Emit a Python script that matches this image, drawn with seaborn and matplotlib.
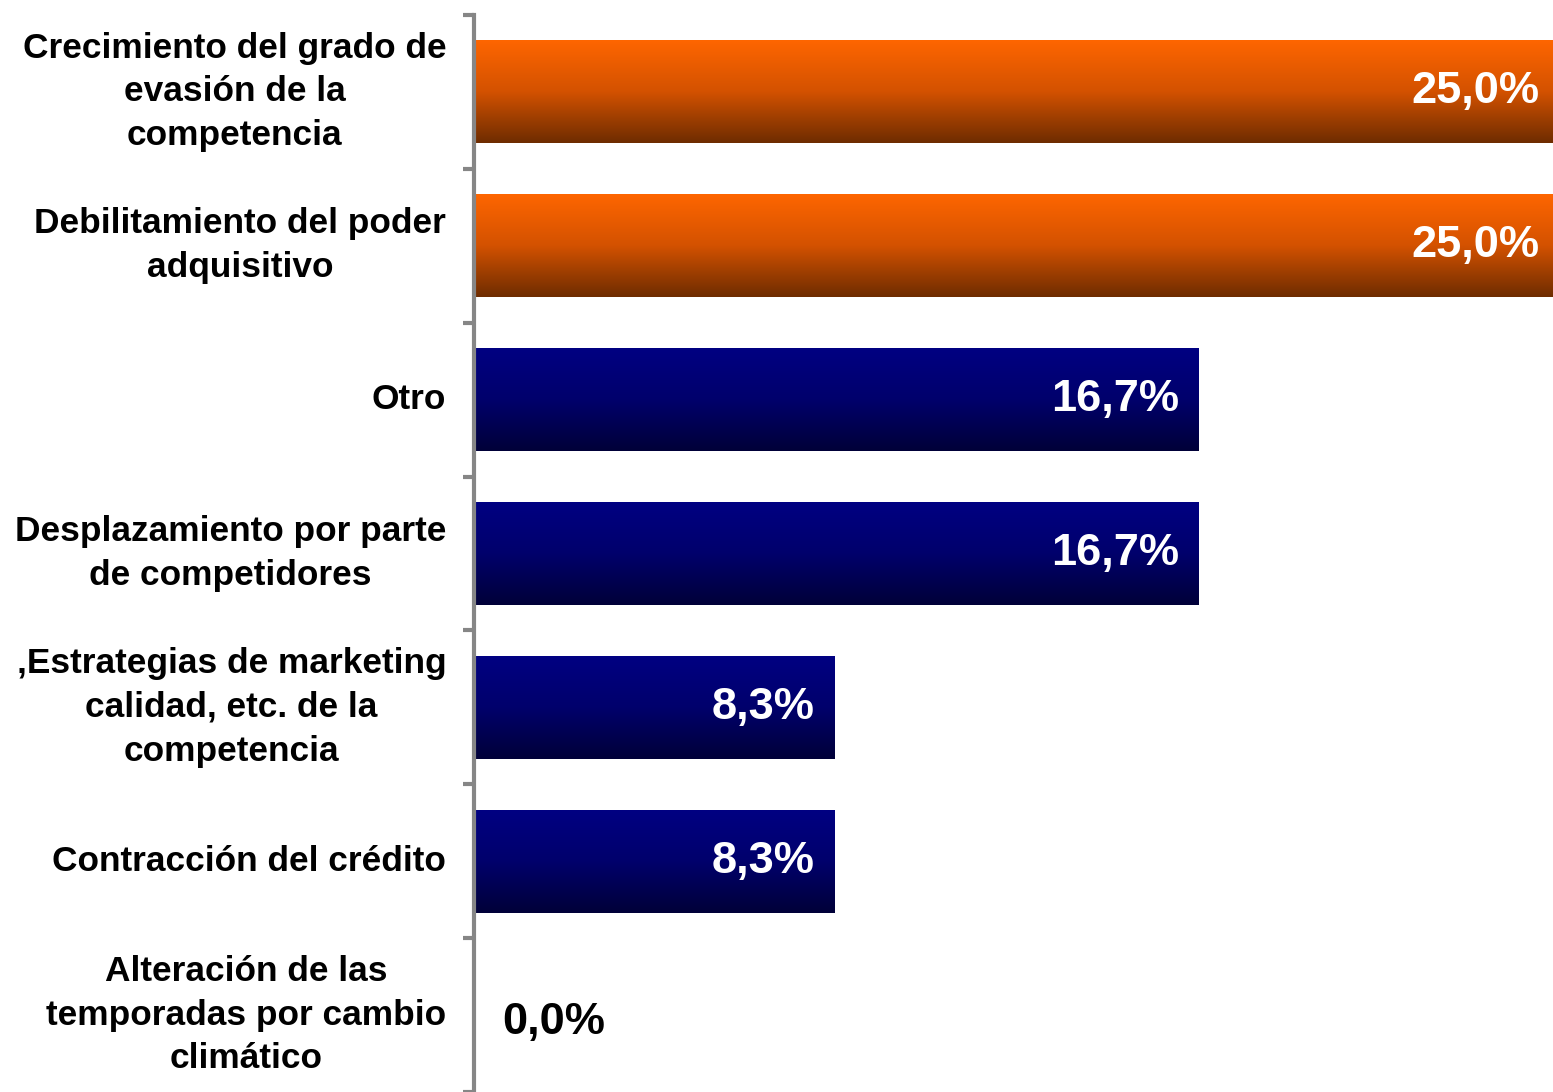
import numpy as np
import pandas as pd
import matplotlib
matplotlib.use("Agg")
import matplotlib.pyplot as plt
import seaborn as sns
from matplotlib.colors import LinearSegmentedColormap

categorias = [
    "Crecimiento del grado de\nevasión de la\ncompetencia",
    "Debilitamiento del poder\nadquisitivo",
    "Otro",
    "Desplazamiento por parte\nde competidores",
    ",Estrategias de marketing\ncalidad, etc. de la\ncompetencia",
    "Contracción del crédito",
    "Alteración de las\ntemporadas por cambio\nclimático",
]
valores = [25.0, 25.0, 16.7, 16.7, 8.3, 8.3, 0.0]
grupo = ["top", "top", "resto", "resto", "resto", "resto", "resto"]

sns.set_theme(style="white")
plt.rcParams['font.family'] = ['Liberation Sans', 'DejaVu Sans']

df = pd.DataFrame({"cat": categorias, "val": valores, "grupo": grupo})

fig = plt.figure(figsize=(15.53, 10.92), dpi=100)
ax = fig.add_axes([474 / 1553, 0.0, 1079 / 1553, 1 - 15 / 1092])

sns.barplot(data=df, y="cat", x="val", orient="h", color="#000080",
            width=0.67, ax=ax, linewidth=0)

# degradados verticales en cada barra
cmap_top = LinearSegmentedColormap.from_list("nar", ["#FF6600", "#D45200", "#6E2C00"])
cmap_rest = LinearSegmentedColormap.from_list("azul", ["#000082", "#00006C", "#000038"])
grad = np.linspace(0, 1, 256).reshape(-1, 1)
for patch, g in zip(ax.patches, df["grupo"]):
    x0, y0 = patch.get_x(), patch.get_y()
    w, h = patch.get_width(), patch.get_height()
    if w <= 0:
        continue
    cm = cmap_top if g == "top" else cmap_rest
    im = ax.imshow(grad, cmap=cm, aspect="auto", extent=[x0, x0 + w, y0 + h, y0],
                   origin="upper", zorder=patch.get_zorder() + 0.1)
    im.set_clip_path(patch)

ax.set_xlim(0, 24.86)
ax.set_ylim(len(categorias) - 0.5, -0.5)

# etiquetas de valor
for i, v in enumerate(valores):
    txt = f"{v:.1f}%".replace(".", ",")
    if v > 0:
        ax.annotate(txt, xy=(v, i), xytext=(-14, 0), textcoords="offset points",
                    ha="right", va="center", color="white", fontsize=32.5,
                    fontweight="bold", zorder=5, annotation_clip=False)
    else:
        ax.annotate(txt, xy=(0, i), xytext=(20, -5), textcoords="offset points",
                    ha="left", va="center", color="black", fontsize=32.5,
                    fontweight="bold", zorder=5, annotation_clip=False)

ax.set_xlabel("")
ax.set_ylabel("")
ax.set_xticks([])
for s in ["top", "right", "bottom"]:
    ax.spines[s].set_visible(False)
ax.spines["left"].set_color("#868686")
ax.spines["left"].set_linewidth(3)

ax.set_yticks(range(len(categorias)))
ax.set_yticklabels(categorias, fontsize=25.4, fontweight="bold", color="black",
                   multialignment="center", linespacing=1.42, va="center")
ax.set_yticks(np.arange(-0.5, len(categorias), 1), minor=True)
ax.tick_params(axis="y", which="major", length=0, pad=20)
ax.tick_params(axis="y", which="minor", length=8, width=3, color="#868686", left=True)

plt.savefig("out.png", dpi=100)
